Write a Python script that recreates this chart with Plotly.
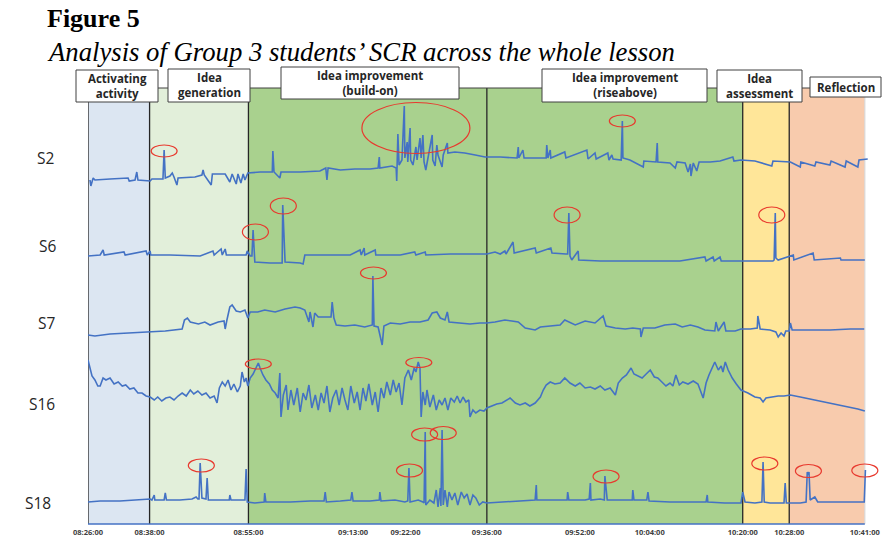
import plotly.graph_objects as go

# ---------------- data ----------------
tick_labels = ["08:26:00", "08:38:00", "08:55:00", "09:13:00", "09:22:00", "09:36:00",
               "09:52:00", "10:04:00", "10:20:00", "10:28:00", "10:41:00"]

phase_names = ["Activating<br>activity", "Idea<br>generation", "Idea improvement<br>(build-on)",
               "Idea improvement<br>(riseabove)", "Idea<br>assessment", "Reflection"]
phase_start = ["08:26:00", "08:38:00", "08:55:00", "09:36:00", "10:20:00", "10:28:00"]
phase_end = ["08:38:00", "08:55:00", "09:36:00", "10:20:00", "10:28:00", "10:41:00"]

students = ["S2", "S6", "S7", "S16", "S18"]

# time = minutes after 08:26:00, value = relative SCR level (arbitrary units)
s2_t = [1.75, 1.9, 2.3, 2.6, 5.2, 8.3, 8.5, 9.5, 9.8, 10.0,
        12.1, 12.4, 13.8, 14.3, 14.5, 14.7, 15.5, 15.9, 16.2, 16.7,
        16.9, 19.8, 21.0, 21.2, 21.4, 22.6, 22.8, 25.0, 25.8, 26.2,
        26.9, 27.2, 27.7, 28.1, 28.4, 28.9, 31.0, 33.1, 33.2, 33.4,
        34.4, 34.6, 37.9, 41.3, 42.3, 42.5, 42.7, 44.8, 47.3, 49.9,
        51.3, 51.5, 51.6, 53.7, 54.4, 54.5, 54.7, 54.9, 55.4, 55.8,
        55.9, 56.3, 56.4, 56.8, 56.9, 57.3, 57.8, 58.0, 58.5, 58.7,
        59.0, 59.2, 59.5, 59.9, 60.6, 60.7, 61.1, 61.4, 61.6, 62.3,
        62.5, 63.2, 63.3, 64.5, 66.2, 68.0, 69.7, 72.3, 75.2, 75.4,
        75.5, 76.2, 76.4, 80.2, 80.3, 80.5, 80.9, 81.0, 83.4, 83.6,
        87.2, 87.4, 88.6, 88.8, 90.8, 91.0, 91.5, 91.7, 93.1, 93.3,
        93.4, 94.6, 96.9, 97.0, 99.1, 99.3, 99.4, 101.5, 102.4, 102.7,
        104.1, 104.6, 105.0, 105.1, 105.5, 106.1, 106.5, 108.4, 110.1, 112.3,
        112.5, 113.7, 116.1, 119.0, 119.2, 122.2, 123.9, 124.0, 126.4, 126.6,
        129.0, 129.2, 131.6, 131.8, 133.8, 134.0, 135.5]
s2_v = [0, -6, 2, 0, 1, 2, -1, 0, 8, 0,
        -1, 1, 1, 1, 30, 2, 4, 7, 3, -5,
        2, 3, 5, 10, 5, -5, 6, 6, -2, 6,
        -4, 6, -3, 6, 0, 7, 8, 8, 29, 8,
        2, 8, 8, 9, 12, 0, 12, 10, 11, 11,
        12, 23, 12, 14, 12, -1, 46, 15, 20, 74,
        22, 38, 18, 52, 20, 15, 33, 20, 42, 22,
        45, 18, 10, 22, 45, 20, 14, 35, 25, 13,
        25, 37, 27, 28, 27, 25, 23, 23, 22, 33,
        22, 30, 22, 22, 35, 22, 30, 22, 28, 22,
        30, 21, 27, 21, 27, 20, 25, 21, 20, 59,
        22, 20, 13, 19, 18, 37, 18, 17, 12, 18,
        17, 8, 16, 4, 17, 9, 18, 18, 19, 23,
        19, 20, 19, 14, 19, 18, 13, 18, 14, 18,
        15, 19, 13, 19, 13, 20, 21]

s6_t = [1.41, 3.5, 4.0, 4.2, 7.6, 7.8, 11.4, 11.6, 12.1, 12.2,
        15.5, 20.7, 22.9, 23.1, 24.3, 24.5, 25.0, 25.2, 28.6, 28.8,
        29.3, 29.6, 29.8, 30.1, 32.7, 34.8, 34.9, 35.3, 37.9, 38.4,
        38.7, 43.0, 46.5, 48.2, 48.4, 48.9, 49.0, 50.8, 50.9, 55.1,
        57.6, 57.8, 59.4, 59.5, 63.7, 67.1, 70.0, 71.4, 72.3, 73.1,
        73.3, 74.5, 74.7, 78.3, 78.5, 81.0, 81.2, 83.6, 83.9, 84.1,
        84.3, 84.6, 85.7, 85.8, 89.5, 93.8, 98.1, 103.2, 107.5, 107.7,
        108.9, 109.1, 110.1, 110.3, 113.7, 117.0, 119.2, 119.4, 119.6, 119.7,
        120.1, 122.7, 122.8, 126.1, 126.3, 130.8, 130.9, 135.0]
s6_v = [-1, 0, 5, 0, 3, 0, 4, 0, 4, 0,
        0, -1, 4, 0, 6, 0, 6, 0, 0, 4,
        -1, -1, 25, -7, -8, -8, 50, -7, -8, -9,
        0, 0, 0, 5, 0, 7, 0, 5, 0, 0,
        3, 0, 3, 0, 1, 1, 1, 3, 1, 4,
        1, 13, 2, 7, 2, 7, 2, 1, 1, 42,
        -1, -5, 4, -5, -6, -6, -6, -6, -2, -6,
        -2, -6, -2, -6, -6, -6, -6, -5, 42, -3,
        -5, 0, -5, 2, -5, -3, -5, -5]

s7_t = [1.41, 2.6, 5.2, 8.6, 12.3, 14.7, 17.6, 18.0, 18.5, 19.0,
        20.4, 21.5, 22.4, 23.8, 24.8, 25.0, 25.3, 25.8, 26.2, 26.9,
        27.6, 28.4, 28.9, 29.3, 30.6, 31.8, 33.6, 35.3, 37.0, 37.9,
        38.7, 39.4, 39.6, 40.1, 40.4, 41.0, 42.2, 43.2, 43.4, 43.7,
        44.1, 45.6, 47.3, 49.0, 50.3, 50.4, 50.6, 51.3, 52.0, 52.3,
        53.4, 55.1, 56.8, 58.5, 59.9, 60.6, 61.4, 62.0, 62.8, 63.2,
        63.5, 65.4, 67.1, 68.8, 70.0, 71.4, 73.1, 74.3, 75.4, 76.6,
        78.3, 79.2, 80.9, 82.6, 83.4, 85.2, 86.9, 88.6, 90.0, 90.5,
        92.1, 93.8, 95.1, 96.4, 96.5, 96.9, 98.9, 100.6, 102.4, 103.6,
        105.0, 106.3, 107.5, 109.2, 109.4, 109.8, 110.8, 111.1, 112.7, 113.7,
        115.3, 116.5, 116.6, 117.0, 118.7, 119.7, 120.1, 120.6, 121.1, 121.4,
        122.0, 122.2, 122.5, 125.6, 129.0, 132.5, 134.9]
s7_v = [0, -1, 1, 2, 3, 4, 6, 15, 17, 13,
        11, 13, 10, 13, 14, 6, 15, 28, 30, 24,
        23, 25, 17, 23, 23, 25, 23, 26, 28, 27,
        25, 13, 23, 8, 22, 18, 18, 18, 33, 17,
        10, 9, 10, 8, 10, 59, 9, 8, -10, 9,
        12, 11, 13, 13, 15, 22, 23, 17, 15, 23,
        13, 12, 11, 12, 12, 13, 15, 14, 13, 7,
        5, 8, 9, 10, 15, 10, 14, 12, 19, 9,
        7, 6, 7, 6, -2, 7, 7, 10, 11, 8,
        10, 8, 5, 4, 13, 4, 13, 4, 4, 6,
        6, 7, 19, 6, 5, 3, -2, 2, -1, 4,
        4, 12, 5, 5, 5, 6, 6]

s16_t = [1.41, 1.75, 2.1, 2.6, 3.1, 3.5, 4.0, 4.5, 5.2, 5.9,
         6.6, 7.3, 7.9, 8.6, 9.3, 10.0, 10.7, 11.4, 12.1, 12.8,
         13.4, 14.1, 14.8, 15.5, 16.2, 16.9, 17.6, 18.3, 19.0, 19.6,
         20.3, 21.0, 21.7, 22.4, 23.1, 23.6, 24.0, 24.5, 25.0, 25.5,
         26.0, 26.5, 27.1, 27.6, 27.9, 28.3, 28.6, 28.9, 29.3, 29.8,
         30.3, 30.7, 31.0, 31.5, 32.0, 32.6, 33.1, 33.6, 34.1, 34.4,
         34.6, 35.0, 35.5, 35.8, 36.3, 36.8, 37.4, 37.9, 38.4, 38.9,
         39.4, 39.9, 40.5, 41.0, 41.5, 42.0, 42.5, 43.0, 43.5, 44.1,
         44.6, 45.1, 45.6, 46.1, 46.6, 47.2, 47.7, 48.2, 48.7, 49.2,
         49.7, 50.3, 50.8, 51.3, 51.8, 52.3, 52.8, 53.4, 53.9, 54.4,
         54.9, 55.4, 55.9, 56.5, 57.0, 57.5, 57.8, 58.2, 58.5, 58.7,
         59.0, 59.4, 59.7, 60.2, 60.8, 61.3, 61.8, 62.3, 62.8, 63.3,
         63.8, 64.4, 64.9, 65.4, 65.9, 66.4, 66.9, 67.1, 67.6, 68.1,
         68.8, 69.5, 70.0, 70.9, 71.7, 72.6, 73.5, 74.0, 74.9, 75.7,
         76.6, 77.4, 78.3, 79.2, 79.7, 80.2, 80.9, 81.7, 82.6, 83.4,
         84.3, 85.2, 86.0, 86.9, 87.8, 88.6, 89.5, 90.3, 91.2, 92.1,
         92.6, 93.3, 94.0, 94.8, 95.3, 96.0, 96.7, 97.4, 98.1, 98.8,
         99.4, 100.1, 100.8, 101.5, 102.0, 102.5, 103.1, 103.7, 104.6, 105.5,
         106.3, 107.2, 107.7, 108.2, 108.7, 109.2, 109.8, 110.3, 110.6, 111.0,
         111.5, 112.2, 112.9, 113.7, 114.9, 116.1, 117.0, 117.5, 118.0, 119.0,
         120.1, 121.1, 122.2, 123.9, 126.4, 129.0, 131.6, 133.8, 135.0]
s16_v = [37, 29, 21, 17, 11, 11, 19, 17, 19, 13,
         15, 11, 12, 8, 9, 4, 4, 1, 0, -3,
         0, -4, -1, 0, -3, 1, 4, 1, 7, 3,
         6, 2, 4, -1, 1, -6, 9, 15, 11, 17,
         7, 13, 5, 11, 25, 15, 19, 11, 19, 23,
         29, 34, 29, 22, 17, 13, 7, 4, -1, 24,
         -20, 2, 12, -13, 7, -8, 9, -15, 4, -3,
         12, -11, 2, -13, 4, -6, 11, -15, -1, 7,
         -8, 9, -3, -13, 11, -6, 5, -13, 9, -4,
         13, -8, 5, -15, 9, -1, 15, 2, 17, 5,
         14, -8, 19, 27, 17, 29, 25, 35, 29, -20,
         5, -8, 7, -10, 2, -13, -3, -8, -1, -13,
         -1, -5, 1, -6, 0, -5, -3, -20, -13, -16,
         -13, -14, -11, -9, -7, -6, -3, -1, -6, -8,
         -6, -9, -6, 0, 7, 12, 15, 13, 14, 19,
         14, 11, 14, 9, 10, 8, 11, 7, 9, 2,
         14, 19, 22, 29, 23, 21, 19, 23, 27, 20,
         19, 15, 11, 14, 11, 22, 12, 15, 13, 16,
         13, -1, 14, 22, 29, 35, 27, 31, 25, 35,
         27, 19, 13, 7, 4, 0, -1, -5, -1, 0,
         1, 1, 2, 0, -3, -6, -9, -12, -14]

s18_t = [1.41, 3.5, 6.9, 10.4, 12.1, 12.4, 12.8, 12.9, 14.5, 14.7,
         14.9, 17.2, 19.3, 20.0, 20.3, 20.5, 20.7, 21.0, 21.7, 21.9,
         22.1, 24.1, 25.7, 25.8, 26.0, 28.4, 28.6, 28.8, 30.1, 31.7,
         31.8, 32.0, 36.2, 39.6, 42.0, 42.2, 42.4, 44.8, 46.6, 46.8,
         47.0, 49.9, 51.5, 51.6, 51.8, 54.2, 55.9, 56.4, 56.6, 56.8,
         58.2, 59.0, 59.2, 59.4, 59.5, 60.2, 60.9, 61.3, 61.6, 62.0,
         62.1, 62.3, 62.5, 62.8, 63.2, 63.5, 64.0, 64.5, 65.0, 65.6,
         66.1, 66.6, 67.1, 67.6, 68.1, 68.7, 69.3, 70.0, 72.3, 74.9,
         77.4, 78.3, 78.5, 78.6, 80.9, 83.8, 83.9, 84.1, 86.9, 87.6,
         87.8, 87.9, 89.5, 90.2, 90.3, 90.7, 92.9, 95.0, 95.1, 95.3,
         97.5, 97.7, 97.9, 101.5, 105.0, 107.7, 107.9, 108.0, 110.9, 113.7,
         114.0, 114.4, 116.1, 117.3, 117.5, 117.7, 118.7, 121.1, 121.3, 121.5,
         123.9, 124.9, 125.1, 125.2, 125.4, 125.6, 126.4, 126.9, 130.8, 134.9,
         135.1]
s18_v = [0, 1, 1, 2, 3, 2, 7, 2, 2, 9,
         2, 2, 3, 5, 3, 3, 39, 4, 3, 24,
         2, 2, 2, 7, 2, 2, 33, 0, -1, 0,
         9, 0, 0, 1, 1, 10, 0, 1, 2, 10,
         1, 1, 2, 10, 1, 2, 0, 1, 34, 0,
         2, 0, -1, 70, -3, 2, -1, 12, -5, 14,
         -4, 72, -3, 12, -5, 10, 2, 9, -3, 10,
         4, 8, -3, 7, 4, -3, 0, -1, 0, 1,
         2, 2, 17, 2, 2, 2, 10, 2, 2, 3,
         19, 2, 3, 2, 26, 2, 2, 2, 12, 2,
         2, 10, 1, 0, 0, 0, 7, 0, -1, -1,
         10, 0, -1, 0, 40, 0, -1, -1, 19, -1,
         -1, 0, 30, 27, 30, 2, 5, 0, 0, 0,
         32]

# circled peaks (time, value) per student
s2_peak_t = [14.5, 57.8, 93.3]
s2_peak_v = [29, 52, 59]
s6_peak_t = [30.2, 35.0, 83.8, 119.0]
s6_peak_v = [23, 49, 40, 40]
s7_peak_t = [50.5]
s7_peak_v = [62]
s16_peak_t = [30.7, 58.3]
s16_peak_v = [33, 34.5]
s18_peak_t = [20.9, 56.7, 59.3, 62.5, 90.5, 117.8, 125.3, 135.0]
s18_peak_v = [36.5, 31.5, 67.5, 69, 25.5, 38.5, 31, 31.5]

series_t = [s2_t, s6_t, s7_t, s16_t, s18_t]
series_v = [s2_v, s6_v, s7_v, s16_v, s18_v]
peaks_t = [s2_peak_t, s6_peak_t, s7_peak_t, s16_peak_t, s18_peak_t]
peaks_v = [s2_peak_v, s6_peak_v, s7_peak_v, s16_peak_v, s18_peak_v]

# ---------------- layout constants ----------------
W, H = 883, 539
PL, PT, PR, PB = 88, 88, 883, 524          # plot area in px
PX_PER_MIN = 5.815
X0 = 1.41
X1 = X0 + (PR - PL) / PX_PER_MIN
row_base_px = [180, 255, 335, 397, 502]     # vertical placement of each student's row
label_pos = [(45.5, 158), (47.5, 246), (46.5, 323), (42, 404), (38, 503)]
ell_ry = [6, 8, 6, 5, 6.5]
ell_rx_px = 13
big_ellipse = (0, 1, 54, 25.5)              # (row, index, rx px, ry)
box_px = [(76, 70, 158, 102), (168, 69, 250, 102), (281, 67, 459, 99),
          (542, 69, 707, 102), (717, 70, 802, 102), (810, 77, 881, 97)]
band_colors = ["#DCE6F2", "#E2EFDA", "#A9D18E", "#A9D18E", "#FFE699", "#F8CBAD"]
LINE_BLUE = "#4472C4"
RED = "#E8392E"


def to_min(s):
    h, m, sec = [int(p) for p in s.split(":")]
    return h * 60 + m + sec / 60 - (8 * 60 + 26)


def px_x(p):
    return (p - PL) / (PR - PL)


def px_y(p):
    return (PB - p) / (PB - PT)


fig = go.Figure()

for i, name in enumerate(students):
    fig.add_trace(go.Scatter(
        x=series_t[i], y=series_v[i], mode="lines", name=name,
        line=dict(color=LINE_BLUE, width=1.6),
        yaxis="y" if i == 0 else f"y{i + 1}", hoverinfo="skip"))

shapes = []
# phase bands
for k in range(len(phase_names)):
    x0 = max(X0, to_min(phase_start[k]))
    x1 = to_min(phase_end[k])
    shapes.append(dict(type="rect", xref="x", yref="paper", x0=x0, x1=x1, y0=0, y1=1,
                       fillcolor=band_colors[k], line=dict(width=0), layer="below"))
end_x = to_min(phase_end[-1])
for k in range(len(phase_names)):
    x0 = max(X0, to_min(phase_start[k]))
    shapes.append(dict(type="line", xref="x", yref="paper", x0=x0, x1=x0, y0=0, y1=1,
                       line=dict(color="#262626", width=1.3), layer="below"))
shapes.append(dict(type="line", xref="x", yref="paper", x0=end_x, x1=end_x, y0=0, y1=1,
                   line=dict(color="#D9D9D9", width=1.2), layer="below"))
shapes.append(dict(type="line", xref="x", yref="paper", x0=X0, x1=end_x, y0=1, y1=1,
                   line=dict(color="#404040", width=1), layer="below"))
shapes.append(dict(type="line", xref="x", yref="paper", x0=X0, x1=end_x, y0=0, y1=0,
                   line=dict(color=LINE_BLUE, width=1.5), layer="below"))

# red ellipses around peaks
for i in range(len(students)):
    yref = "y" if i == 0 else f"y{i + 1}"
    for j, (t, v) in enumerate(zip(peaks_t[i], peaks_v[i])):
        rx, ry = ell_rx_px, ell_ry[i]
        if (i, j) == big_ellipse[:2]:
            rx, ry = big_ellipse[2], big_ellipse[3]
        rxm = rx / PX_PER_MIN
        shapes.append(dict(type="circle", xref="x", yref=yref,
                           x0=t - rxm, x1=t + rxm, y0=v - ry, y1=v + ry,
                           line=dict(color=RED, width=1.2), layer="above"))

# phase label boxes
annotations = []
for k, (x0, y0, x1, y1) in enumerate(box_px):
    shapes.append(dict(type="rect", xref="paper", yref="paper",
                       x0=px_x(x0), x1=px_x(x1), y0=px_y(y1), y1=px_y(y0),
                       fillcolor="white", line=dict(color="#404040", width=1), layer="above"))
    annotations.append(dict(xref="paper", yref="paper", x=px_x((x0 + x1) / 2), y=px_y((y0 + y1) / 2),
                            text=f"<b>{phase_names[k]}</b>", showarrow=False,
                            xanchor="center", yanchor="middle",
                            font=dict(family="Open Sans", size=11.5, color="#262626")))

# student labels
for i, name in enumerate(students):
    cx, cy = label_pos[i]
    annotations.append(dict(xref="paper", yref="paper", x=px_x(cx), y=px_y(cy), text=name,
                            showarrow=False, xanchor="center", yanchor="middle",
                            font=dict(family="Open Sans", size=15.5, color="#262626")))

# title
annotations.append(dict(xref="paper", yref="paper", x=px_x(45), y=px_y(19), text="<b>Figure 5</b>",
                        showarrow=False, xanchor="left", yanchor="middle",
                        font=dict(family="Liberation Serif", size=26, color="black")))
annotations.append(dict(xref="paper", yref="paper", x=px_x(45), y=px_y(52),
                        text="<i>Analysis of Group 3 students\u2019 SCR across the whole lesson</i>",
                        showarrow=False, xanchor="left", yanchor="middle",
                        font=dict(family="Liberation Serif", size=26.7, color="black")))

tickvals = [max(X0, to_min(s)) for s in tick_labels]

layout = dict(
    width=W, height=H, margin=dict(l=PL, r=W - PR, t=PT, b=H - PB),
    paper_bgcolor="white", plot_bgcolor="white", showlegend=False,
    shapes=shapes, annotations=annotations,
    xaxis=dict(range=[X0, X1], tickvals=tickvals, ticktext=[f"<b>{s}</b>" for s in tick_labels],
               showgrid=False, zeroline=False, showline=False, ticks="", ticklabelstandoff=2,
               tickfont=dict(family="Open Sans", size=7.5, color="#404040")),
)
for i in range(len(students)):
    key = "yaxis" if i == 0 else f"yaxis{i + 1}"
    b = row_base_px[i]
    ax = dict(range=[b - PB, b - PT], visible=False, fixedrange=True, domain=[0, 1])
    if i > 0:
        ax["overlaying"] = "y"
    layout[key] = ax
fig.update_layout(**layout)

fig.write_html("out.html", config={"displayModeBar": False},
               post_script="document.body.style.margin='0px';")
